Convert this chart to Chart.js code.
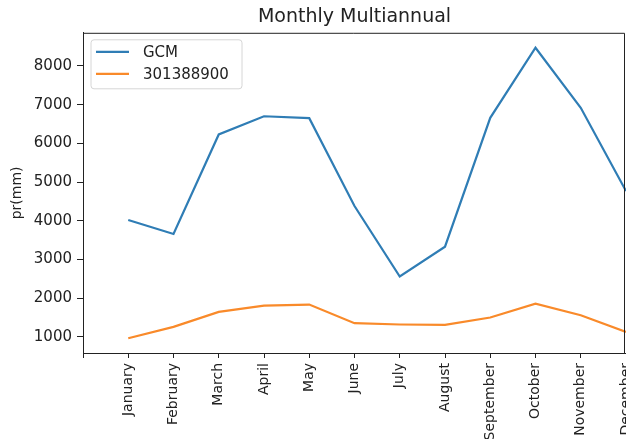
<!DOCTYPE html>
<html>
<head>
<meta charset="utf-8">
<script src="https://cdn.jsdelivr.net/npm/chart.js@4/dist/chart.umd.min.js"></script>
<style>
html,body{margin:0;padding:0;background:#fff;}
#wrap{width:626px;height:439px;position:relative;}
</style>
</head>
<body>
<div id="wrap"><canvas id="c" width="626" height="439"></canvas></div>
<script>
const months = ["January","February","March","April","May","June","July","August","September","October","November","December"];
const gcmValues = [4020, 3660, 6230, 6700, 6650, 4380, 2560, 3330, 6660, 8470, 6920, 4770];
const stationValues = [965, 1260, 1645, 1810, 1835, 1355, 1320, 1310, 1500, 1860, 1560, 1130];
const seriesNames = ["GCM", "301388900"];
const yTickValues = [1000, 2000, 3000, 4000, 5000, 6000, 7000, 8000];

const C0 = '#2f7db5', C1 = '#f98a2a';

const bgPlugin = {
  id: 'bg',
  beforeDraw(chart) {
    const ctx = chart.ctx;
    ctx.save();
    ctx.fillStyle = '#fff';
    ctx.fillRect(0, 0, chart.width, chart.height);
    ctx.restore();
  }
};

const framePlugin = {
  id: 'frame',
  afterDraw(chart) {
    const {ctx, chartArea: a} = chart;
    ctx.save();
    ctx.strokeStyle = '#222';
    ctx.lineWidth = 1;
    ctx.beginPath();
    ctx.moveTo(a.left, a.top + 0.5);
    ctx.lineTo(a.right - 1.5, a.top + 0.5);
    ctx.lineTo(a.right - 1.5, a.bottom);
    ctx.stroke();
    // legend
    const bx = a.left + 8, by = a.top + 7, bw = 151, bh = 49, r = 3;
    ctx.fillStyle = 'rgba(255,255,255,0.8)';
    ctx.strokeStyle = '#d6d6d6';
    ctx.beginPath();
    ctx.moveTo(bx + r, by);
    ctx.lineTo(bx + bw - r, by);
    ctx.quadraticCurveTo(bx + bw, by, bx + bw, by + r);
    ctx.lineTo(bx + bw, by + bh - r);
    ctx.quadraticCurveTo(bx + bw, by + bh, bx + bw - r, by + bh);
    ctx.lineTo(bx + r, by + bh);
    ctx.quadraticCurveTo(bx, by + bh, bx, by + bh - r);
    ctx.lineTo(bx, by + r);
    ctx.quadraticCurveTo(bx, by, bx + r, by);
    ctx.fill();
    ctx.stroke();
    ctx.font = '15px "DejaVu Sans"';
    ctx.textBaseline = 'middle';
    chart.data.datasets.forEach((ds, i) => {
      const yy = by + 12 + i * 22;
      ctx.strokeStyle = ds.borderColor;
      ctx.lineWidth = 2.2;
      ctx.beginPath();
      ctx.moveTo(bx + 5, yy);
      ctx.lineTo(bx + 38, yy);
      ctx.stroke();
      ctx.fillStyle = '#222';
      ctx.fillText(ds.label, bx + 52, yy + 1);
    });
    ctx.restore();
  }
};

new Chart(document.getElementById('c'), {
  type: 'line',
  data: {
    datasets: [
      { label: seriesNames[0], data: gcmValues.map((v, i) => ({x: i, y: v})), borderColor: C0, backgroundColor: C0, borderWidth: 2.2, pointRadius: 0, tension: 0, fill: false },
      { label: seriesNames[1], data: stationValues.map((v, i) => ({x: i, y: v})), borderColor: C1, backgroundColor: C1, borderWidth: 2.2, pointRadius: 0, tension: 0, fill: false }
    ]
  },
  options: {
    responsive: false,
    animation: false,
    devicePixelRatio: 1,
    layout: { padding: { left: 0, right: 0, top: 0, bottom: 0 } },
    plugins: {
      legend: { display: false },
      tooltip: { enabled: false },
      title: {
        display: true,
        fullSize: false,
        text: 'Monthly Multiannual',
        color: '#222',
        font: { family: 'DejaVu Sans', size: 19, weight: 'normal' },
        padding: { top: 6, bottom: 4 }
      }
    },
    scales: {
      x: {
        type: 'linear',
        min: -1,
        max: 11,
        afterFit(s) { s.height = 86; s.paddingRight = 0; s.paddingLeft = 0; },
        ticks: {
          stepSize: 1,
          autoSkip: false,
          maxRotation: 90,
          minRotation: 90,
          padding: 5,
          color: '#222',
          font: { family: 'DejaVu Sans', size: 14 },
          callback: (v) => (Number.isInteger(v) && v >= 0 && v < months.length) ? months[v] : ''
        },
        grid: { drawOnChartArea: false, drawTicks: true, tickLength: 5, color: '#222' },
        border: { display: true, color: '#222', width: 1 }
      },
      y: {
        min: 584,
        max: 8856,
        afterFit(s) { s.width = 83; },
        afterBuildTicks(s) { s.ticks = yTickValues.map(v => ({value: v})); },
        ticks: {
          padding: 5,
          color: '#222',
          font: { family: 'DejaVu Sans', size: 15 },
          callback: (v) => String(v)
        },
        grid: { drawOnChartArea: false, drawTicks: true, tickLength: 6, color: '#222' },
        border: { display: true, color: '#222', width: 1 },
        title: {
          display: true,
          text: 'pr(mm)',
          color: '#222',
          font: { family: 'DejaVu Sans', size: 14 },
          padding: { top: 9, bottom: 0 }
        }
      }
    }
  },
  plugins: [bgPlugin, framePlugin]
});
</script>
</body>
</html>
